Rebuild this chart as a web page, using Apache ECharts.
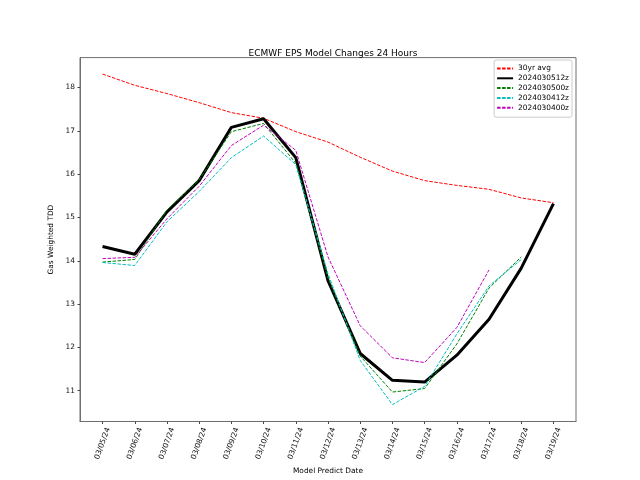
<!DOCTYPE html>
<html>
<head>
<meta charset="utf-8">
<script src="https://cdn.jsdelivr.net/npm/echarts@6/dist/echarts.min.js"></script>
<style>html,body{margin:0;padding:0;background:#fff}#c{width:640px;height:480px}</style>
</head>
<body>
<div id="c"></div>
<script>
var dates = ['03/05/24','03/06/24','03/07/24','03/08/24','03/09/24','03/10/24','03/11/24','03/12/24','03/13/24','03/14/24','03/15/24','03/16/24','03/17/24','03/18/24','03/19/24'];
var avg30 = [18.31, 18.05, 17.86, 17.65, 17.42, 17.29, 16.98, 16.74, 16.39, 16.07, 15.85, 15.74, 15.65, 15.45, 15.34];
var run0512 = [14.33, 14.15, 15.13, 15.85, 17.08, 17.28, 16.38, 13.54, 11.86, 11.24, 11.2, 11.82, 12.65, 13.83, 15.32];
var run0500 = [13.97, 14.03, 15.17, 15.87, 16.98, 17.17, 16.25, 13.6, 11.8, 10.97, 11.05, 12.08, 13.37, 14.09];
var run0412 = [13.96, 13.89, 14.9, 15.6, 16.38, 16.88, 16.22, 13.7, 11.7, 10.68, 11.1, 12.31, 13.42, 14.03];
var run0400 = [14.05, 14.08, 14.97, 15.72, 16.66, 17.13, 16.55, 14.09, 12.5, 11.76, 11.65, 12.46, 13.79];
var yTicks = [11, 12, 13, 14, 15, 16, 17, 18];
var seriesNames = ['30yr avg', '2024030512z', '2024030500z', '2024030412z', '2024030400z'];

function pts(arr) { return arr.map(function (v, i) { return [i, v]; }); }
var xIdx = dates.map(function (d, i) { return i; });

var chart = echarts.init(document.getElementById('c'), null, {renderer: 'canvas'});
var dash = [3.5, 1.5];
function mk(name, data, color, width, type) {
  return {
    name: name, type: 'line', data: pts(data), showSymbol: false, symbol: 'none',
    lineStyle: {color: color, width: width, type: type}, itemStyle: {color: color},
    animation: false, emphasis: {disabled: true}
  };
}
var font = 'DejaVu Sans';
chart.setOption({
  animation: false,
  title: {
    text: 'ECMWF EPS Model Changes 24 Hours', left: 328, top: 44, textAlign: 'center',
    textStyle: {fontFamily: font, fontSize: 9, fontWeight: 'normal', color: '#000'}
  },
  legend: {
    data: seriesNames, orient: 'vertical', right: 68, top: 60,
    itemWidth: 16, itemHeight: 8, itemGap: 2.8,
    padding: [5, 3, 6, 2], borderColor: '#cccccc', borderWidth: 1, borderRadius: 2,
    backgroundColor: 'rgba(255,255,255,0.8)',
    itemStyle: {color: 'rgba(0,0,0,0)', borderWidth: 0, opacity: 0},
    textStyle: {fontFamily: font, fontSize: 7.4, color: '#000'}
  },
  grid: {left: 80, right: 64, top: 57.6, bottom: 52.8, show: true, borderColor: '#6f6f6f', borderWidth: 1, backgroundColor: 'transparent'},
  xAxis: {
    type: 'value', min: -0.7, max: 14.7,
    name: 'Model Predict Date', nameLocation: 'middle', nameGap: 43,
    nameTextStyle: {fontFamily: font, fontSize: 7.4, color: '#000'},
    axisLine: {show: true, onZero: false, lineStyle: {color: '#6f6f6f', width: 1}},
    splitLine: {show: false},
    axisTick: {show: true, customValues: xIdx, length: 2.5, lineStyle: {color: '#444'}},
    axisLabel: {
      customValues: xIdx, rotate: 70, align: 'center', verticalAlign: 'middle', margin: 22,
      fontFamily: font, fontSize: 7.4, color: '#111',
      formatter: function (v) { return dates[Math.round(v)] || ''; }
    }
  },
  yAxis: {
    type: 'value', min: 10.29, max: 18.69,
    name: 'Gas Weighted TDD', nameLocation: 'middle', nameGap: 12, nameRotate: 90,
    nameTextStyle: {fontFamily: font, fontSize: 7.4, color: '#000'},
    axisLine: {show: true, onZero: false, lineStyle: {color: '#6f6f6f', width: 1}},
    splitLine: {show: false},
    axisTick: {show: true, customValues: yTicks, length: 2.5, lineStyle: {color: '#444'}},
    axisLabel: {customValues: yTicks, margin: 5, fontFamily: font, fontSize: 7.4, color: '#111',
      formatter: function (v) { return String(Math.round(v)); }}
  },
  series: [
    mk(seriesNames[0], avg30, '#ff0000', 1, dash),
    mk(seriesNames[1], run0512, '#000000', 3, 'solid'),
    mk(seriesNames[2], run0500, '#008000', 1, dash),
    mk(seriesNames[3], run0412, '#00bfbf', 1, dash),
    mk(seriesNames[4], run0400, '#bf00bf', 1, dash)
  ]
});
</script>
</body>
</html>
